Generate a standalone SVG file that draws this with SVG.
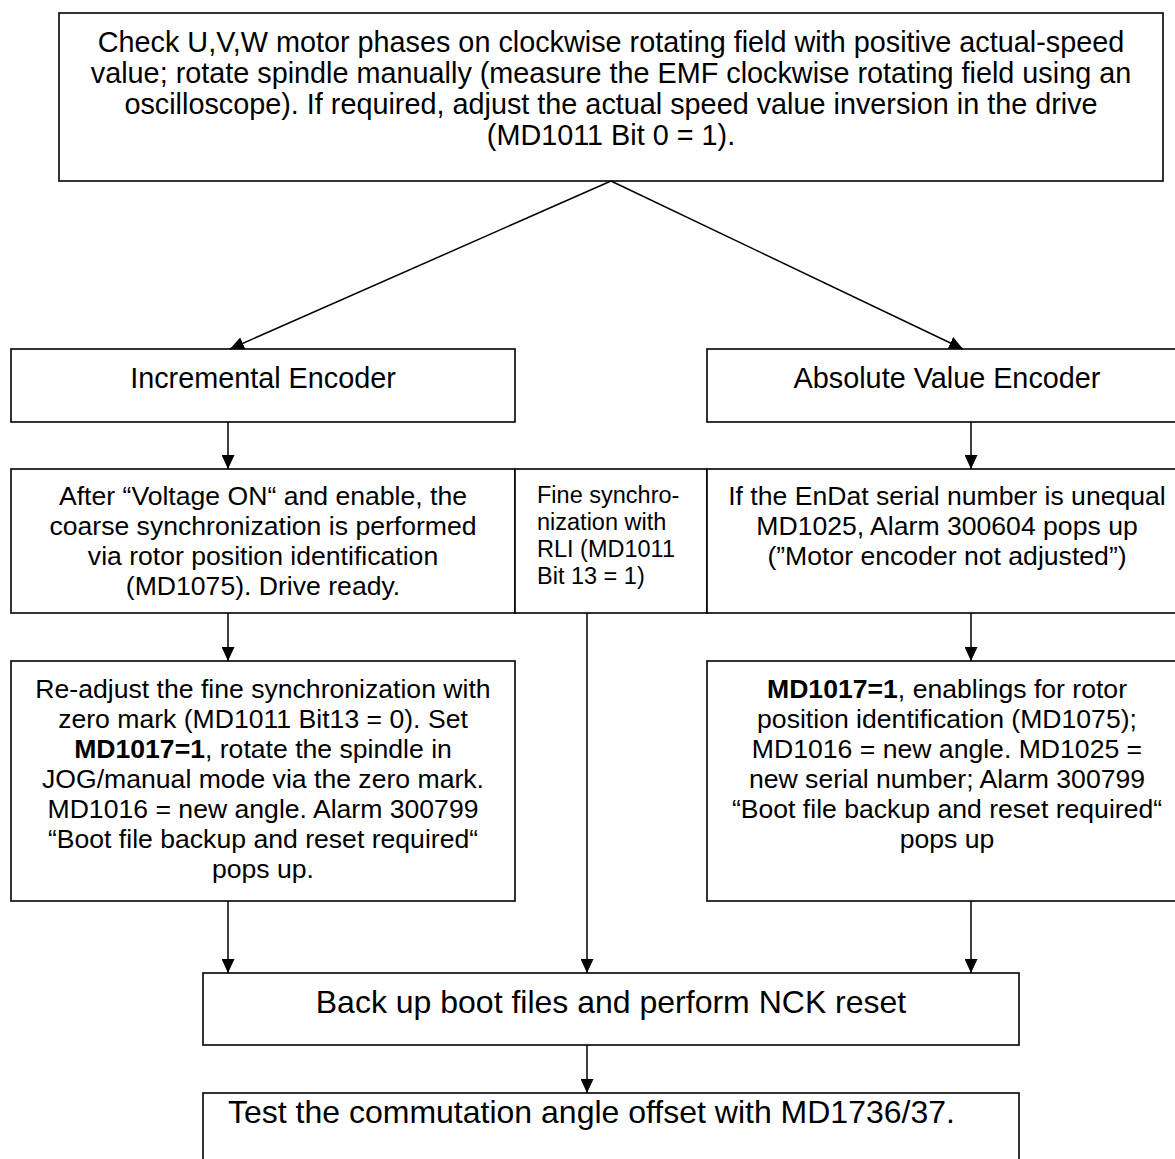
<svg xmlns="http://www.w3.org/2000/svg" width="1175" height="1159" viewBox="0 0 1175 1159">
<style>
.box{fill:#fff;stroke:#000;stroke-width:1.6}
.t{font-family:"Liberation Sans",Arial,sans-serif;fill:#000}
.c{text-anchor:middle}
.f29{font-size:28.8px}
.f27{font-size:26.6px}
.f23{font-size:23.5px}
.f32{font-size:32px}
.con{stroke:#000;stroke-width:1.5;fill:none;marker-end:url(#ah)}
.plain{stroke:#000;stroke-width:1.5;fill:none}
</style>
<defs>
<marker id="ah" markerUnits="userSpaceOnUse" markerWidth="14" markerHeight="13" viewBox="0 0 14 13" refX="14" refY="6.5" orient="auto">
<path d="M0,0 L14,6.5 L0,13 z" fill="#000"/>
</marker>
</defs>
<rect width="1175" height="1159" fill="#fff"/>

<g id="n-check">
<rect class="box" x="59" y="13" width="1104" height="168"/>
<text class="t c f29" x="611"><tspan x="611" y="52">Check U,V,W motor phases on clockwise rotating field with positive actual-speed</tspan><tspan x="611" y="83">value; rotate spindle manually (measure the EMF clockwise rotating field using an</tspan><tspan x="611" y="114">oscilloscope). If required, adjust the actual speed value inversion in the drive</tspan><tspan x="611" y="145">(MD1011 Bit 0 = 1).</tspan></text>
</g>

<g id="n-incremental">
<rect class="box" x="11" y="349" width="504" height="73"/>
<text class="t c f29" x="263" y="388">Incremental Encoder</text>
</g>

<g id="n-absolute">
<rect class="box" x="707" y="349" width="480" height="73"/>
<text class="t c f29" x="947" y="388">Absolute Value Encoder</text>
</g>

<g id="n-coarse">
<rect class="box" x="11" y="469" width="504" height="144"/>
<text class="t c f27"><tspan x="263" y="505">After “Voltage ON“ and enable, the</tspan><tspan x="263" y="535">coarse synchronization is performed</tspan><tspan x="263" y="565">via rotor position identification</tspan><tspan x="263" y="595">(MD1075). Drive ready.</tspan></text>
</g>

<g id="n-fine">
<rect class="box" x="515" y="469" width="192" height="144"/>
<text class="t f23"><tspan x="537" y="503">Fine synchro-</tspan><tspan x="537" y="530">nization with</tspan><tspan x="537" y="557">RLI (MD1011</tspan><tspan x="537" y="584">Bit 13 = 1)</tspan></text>
</g>

<g id="n-endat">
<rect class="box" x="707" y="469" width="480" height="144"/>
<text class="t c f27"><tspan x="947" y="505">If the EnDat serial number is unequal</tspan><tspan x="947" y="535">MD1025, Alarm 300604 pops up</tspan><tspan x="947" y="565">(”Motor encoder not adjusted”)</tspan></text>
</g>

<g id="n-readjust">
<rect class="box" x="11" y="661" width="504" height="240"/>
<text class="t c f27"><tspan x="263" y="698">Re-adjust the fine synchronization with</tspan><tspan x="263" y="728">zero mark (MD1011 Bit13 = 0). Set</tspan><tspan x="263" y="758"><tspan font-weight="bold">MD1017=1</tspan>, rotate the spindle in</tspan><tspan x="263" y="788">JOG/manual mode via the zero mark.</tspan><tspan x="263" y="818">MD1016 = new angle. Alarm 300799</tspan><tspan x="263" y="848">“Boot file backup and reset required“</tspan><tspan x="263" y="878">pops up.</tspan></text>
</g>

<g id="n-md1017">
<rect class="box" x="707" y="661" width="480" height="240"/>
<text class="t c f27"><tspan x="947" y="698"><tspan font-weight="bold">MD1017=1</tspan>, enablings for rotor</tspan><tspan x="947" y="728">position identification (MD1075);</tspan><tspan x="947" y="758">MD1016 = new angle. MD1025 =</tspan><tspan x="947" y="788">new serial number; Alarm 300799</tspan><tspan x="947" y="818">“Boot file backup and reset required“</tspan><tspan x="947" y="848">pops up</tspan></text>
</g>

<g id="n-backup">
<rect class="box" x="203" y="973" width="816" height="72"/>
<text class="t c f32" x="611" y="1013">Back up boot files and perform NCK reset</text>
</g>

<g id="n-test">
<rect class="box" x="203" y="1093" width="816" height="90"/>
<text class="t f32" x="228" y="1123">Test the commutation angle offset with MD1736/37.</text>
</g>

<g id="connectors">
<line class="con" x1="611" y1="181" x2="230" y2="349"/>
<line class="con" x1="611" y1="181" x2="963" y2="349"/>
<line class="con" x1="228" y1="422" x2="228" y2="469"/>
<line class="con" x1="971" y1="422" x2="971" y2="469"/>
<line class="con" x1="228" y1="613" x2="228" y2="661"/>
<line class="con" x1="971" y1="613" x2="971" y2="661"/>
<line class="con" x1="228" y1="901" x2="228" y2="973"/>
<line class="con" x1="587" y1="613" x2="587" y2="973"/>
<line class="con" x1="971" y1="901" x2="971" y2="973"/>
<line class="con" x1="587" y1="1045" x2="587" y2="1093"/>
</g>
</svg>
